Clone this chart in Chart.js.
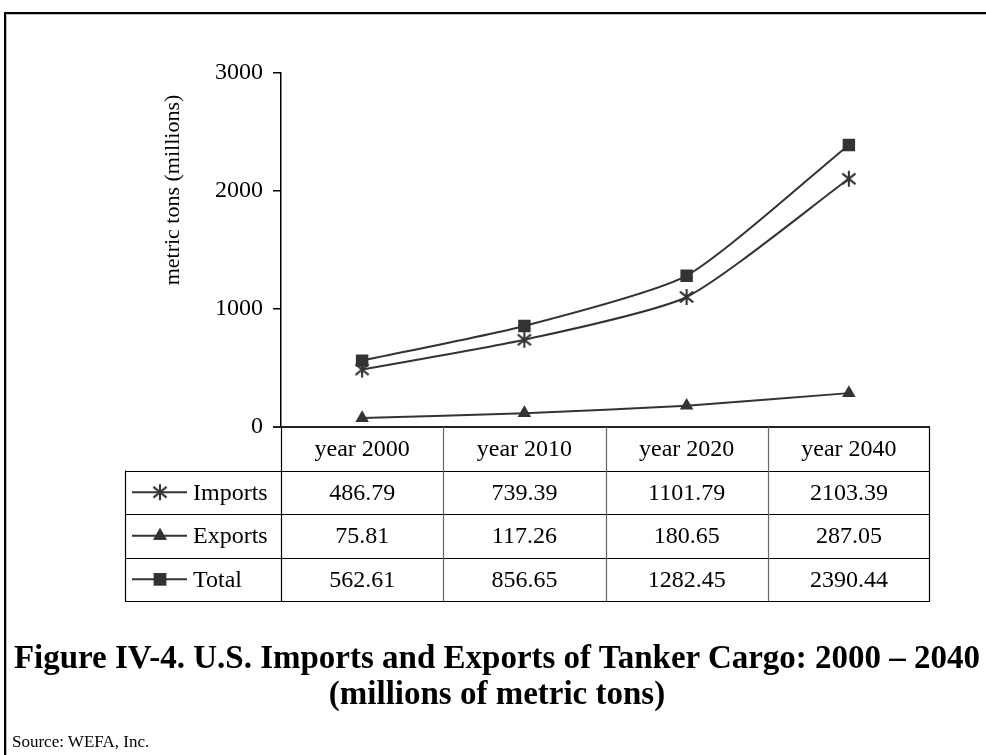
<!DOCTYPE html>
<html>
<head>
<meta charset="utf-8">
<script src="https://cdn.jsdelivr.net/npm/chart.js@4/dist/chart.umd.min.js"></script>
<style>
  html, body { margin: 0; padding: 0; background: #fff; }
  #wrap { position: relative; width: 986px; height: 755px; overflow: hidden; }
  #frame { position: absolute; left: 4px; top: 12px; width: 990px; height: 800px;
           border-top: 2px solid #000; border-left: 2px solid #000; box-shadow: inset 1px 1px 0 #bbb; }
  #cv { position: absolute; left: 0; top: 0; }
  .title { position: absolute; left: 0; width: 994px; text-align: center;
           font-family: "Liberation Serif", "Times New Roman", serif; font-weight: bold;
           font-size: 33px; line-height: 36px; color: #000; white-space: nowrap; }
  #source { position: absolute; left: 12px; top: 732px; font-family: "Liberation Serif", serif;
            font-size: 17px; color: #000; }
</style>
</head>
<body>
<div id="wrap">
  <div id="frame"></div>
  <canvas id="cv" width="986" height="755"></canvas>
  <div class="title" style="top:639px">Figure IV-4. U.S. Imports and Exports of Tanker Cargo: 2000 – 2040</div>
  <div class="title" style="top:675px">(millions of metric tons)</div>
  <div id="source">Source: WEFA, Inc.</div>
</div>
<script>
// ── data ────────────────────────────────────────────────────────────────
const categories = ['year 2000', 'year 2010', 'year 2020', 'year 2040'];
const imports    = [486.79, 739.39, 1101.79, 2103.39];
const exportsVal = [75.81, 117.26, 180.65, 287.05];
const totals     = [562.61, 856.65, 1282.45, 2390.44];
const yTicks     = [0, 1000, 2000, 3000];
const yTitle     = 'metric tons (millions)';

const INK = '#333';
const SERIF = '"Liberation Serif", "Times New Roman", serif';

// asterisk marker (vertical bar + X), like the Excel one
function makeAsterisk(size) {
  const c = document.createElement('canvas');
  c.width = size; c.height = size;
  const g = c.getContext('2d');
  const m = size / 2, r = size / 2 - 1.5;
  g.strokeStyle = INK; g.lineWidth = 2.1;
  g.beginPath();
  g.moveTo(m, m - r * 0.95); g.lineTo(m, m + r * 0.95);
  const d = r * 0.78, e = r * 0.63;
  g.moveTo(m - d, m - e); g.lineTo(m + d, m + e);
  g.moveTo(m - d, m + e); g.lineTo(m + d, m - e);
  g.stroke();
  return c;
}
const asterisk = makeAsterisk(20);

const series = [
  { label: 'Imports', data: imports,    pointStyle: asterisk,   radius: 9,   order: 1 },
  { label: 'Exports', data: exportsVal, pointStyle: 'triangle', radius: 7.8, order: 1 },
  { label: 'Total',   data: totals,     pointStyle: 'rect',     radius: 8.8, order: 0 },
];

function drawMarker(ctx, s, x, y) {
  if (s.pointStyle === asterisk) {
    ctx.drawImage(asterisk, x - asterisk.width / 2, y - asterisk.height / 2);
    return;
  }
  Chart.helpers.drawPoint(ctx, { pointStyle: s.pointStyle, radius: s.radius, borderWidth: 0, rotation: 0 }, x, y);
  ctx.fill();
}

// ── data table + axis title under / beside the plot ────────────────────
const dataTable = {
  id: 'dataTable',
  afterDraw(chart) {
    const ctx = chart.ctx;
    const xs = chart.scales.x, ys = chart.scales.y;
    const area = chart.chartArea;
    const colW = xs.getPixelForValue(1) - xs.getPixelForValue(0);
    const top = ys.getPixelForValue(0);
    const rowH = 43.5;
    const legL = 125;
    ctx.save();

    // grid of the table
    ctx.lineWidth = 1.2;
    ctx.strokeStyle = '#000';
    ctx.beginPath();
    for (let r = 1; r <= 4; r++) {
      const yy = Math.round(top + r * rowH) + 0.5;
      ctx.moveTo(legL, yy); ctx.lineTo(area.right, yy);
    }
    ctx.moveTo(legL + 0.5, top + rowH); ctx.lineTo(legL + 0.5, top + 4 * rowH);
    ctx.moveTo(area.right - 0.5, top); ctx.lineTo(area.right - 0.5, top + 4 * rowH);
    ctx.moveTo(area.left + 0.5, top); ctx.lineTo(area.left + 0.5, top + 4 * rowH);
    ctx.stroke();
    // category axis line (top of the table)
    ctx.lineWidth = 2;
    ctx.strokeStyle = '#222';
    ctx.beginPath();
    ctx.moveTo(area.left - 8, top); ctx.lineTo(area.right, top);
    ctx.stroke();
    ctx.lineWidth = 1.2;
    ctx.strokeStyle = '#666';
    ctx.beginPath();
    for (let i = 1; i < categories.length; i++) {
      const xx = Math.round(area.left + i * colW) + 0.5;
      ctx.moveTo(xx, top); ctx.lineTo(xx, top + 4 * rowH);
    }
    ctx.stroke();

    // text
    ctx.fillStyle = '#000';
    ctx.font = '24px ' + SERIF;
    ctx.textAlign = 'center';
    ctx.textBaseline = 'middle';
    categories.forEach((c, i) => ctx.fillText(c, xs.getPixelForValue(i), top + rowH / 2 + 1));
    series.forEach((s, r) => {
      const cy = top + rowH * (r + 1.5) + 1;
      s.data.forEach((v, i) => ctx.fillText(v.toFixed(2), xs.getPixelForValue(i), cy));
      // legend key
      ctx.strokeStyle = INK; ctx.lineWidth = 2;
      ctx.beginPath(); ctx.moveTo(132, cy - 1); ctx.lineTo(187, cy - 1); ctx.stroke();
      ctx.fillStyle = INK;
      drawMarker(ctx, s, 160, cy - 1);
      ctx.fillStyle = '#000';
      ctx.textAlign = 'left';
      ctx.fillText(s.label, 193, cy);
      ctx.textAlign = 'center';
    });

    // y axis title
    ctx.translate(173, 190);
    ctx.rotate(-Math.PI / 2);
    ctx.font = '22px ' + SERIF;
    ctx.fillText(yTitle, 0, 0);
    ctx.restore();
  }
};

new Chart(document.getElementById('cv'), {
  type: 'line',
  data: {
    labels: categories,
    datasets: series.map(s => ({
      label: s.label,
      data: s.data,
      order: s.order,
      borderColor: INK,
      backgroundColor: INK,
      borderWidth: 2,
      pointStyle: s.pointStyle,
      pointRadius: s.radius,
      pointBorderWidth: 0,
      tension: 0.2,
      fill: false,
    })),
  },
  options: {
    responsive: false,
    animation: false,
    events: [],
    layout: { padding: { left: 0, top: 73, right: 56, bottom: 328 } },
    plugins: { legend: { display: false }, tooltip: { enabled: false }, title: { display: false } },
    scales: {
      x: { display: false, offset: true },
      y: {
        min: 0, max: 3000,
        afterFit: (scale) => { scale.width = 281; },
        afterBuildTicks: (scale) => { scale.ticks = yTicks.map(v => ({ value: v })); },
        border: { display: true, color: '#000', width: 1.5 },
        grid: { drawOnChartArea: false, drawTicks: true, tickLength: 8, color: '#000', lineWidth: 1.5 },
        ticks: { color: '#000', font: { family: SERIF, size: 24 }, padding: 10, callback: (v) => String(v) },
      },
    },
  },
  plugins: [dataTable],
});
</script>
</body>
</html>
